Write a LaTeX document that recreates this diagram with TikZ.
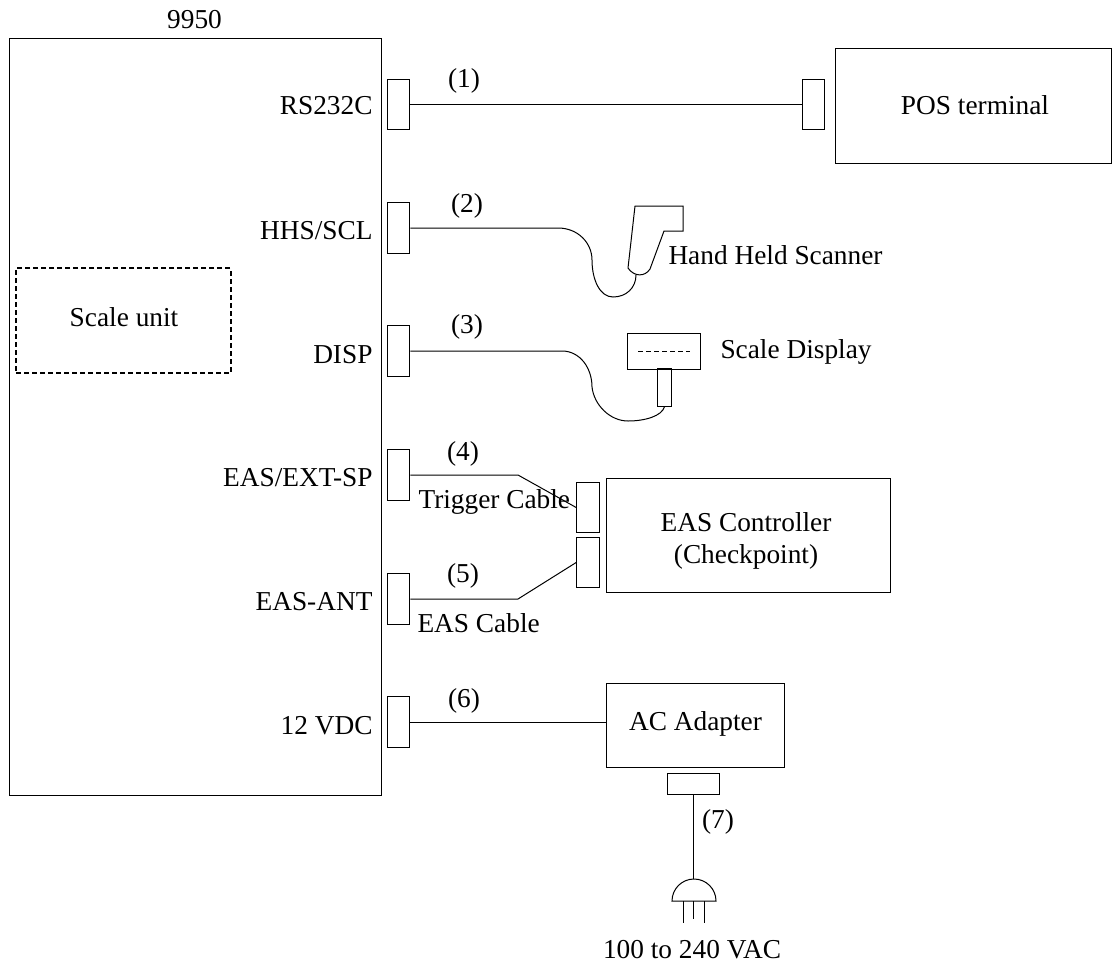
\documentclass[tikz,border=0pt]{standalone}
\usepackage{fontspec}
\setmainfont{Liberation Serif}
\usetikzlibrary{positioning,calc}

\begin{document}
\begin{tikzpicture}[x=0.75pt,y=-0.75pt,line width=0.75pt,
  every node/.style={font=\fontsize{20.5}{24}\selectfont},
  boxnode/.style={draw,rectangle,inner sep=0pt,align=center},
  portbox/.style={boxnode,minimum width=17pt,minimum height=38pt},
  lab/.style={inner sep=0pt,anchor=base},
  portlab/.style={inner sep=0pt,anchor=base east},
  sidelab/.style={inner sep=0pt,anchor=base west}]
\useasboundingbox (0,0) rectangle (1112,963);

% Main unit and scale unit
\node[boxnode,minimum width=279pt,minimum height=567pt] (unit) at (195,417) {};
\node[boxnode,line width=1.1pt,dash pattern=on 3.75pt off 2.25pt,minimum width=161pt,minimum height=78.5pt] (scale) at (123.5,320.5) {};
\node[lab] (scalelab) at (124,326) {Scale unit};
\node[lab] (title) at (194.5,29) {9950};

% Ports on the main unit
\foreach \name/\y/\base/\txt in {p1/104.5/115/RS232C, p2/228/239/HHS\slash SCL, p3/351/363/DISP, p4/475/486/EAS\slash EXT-SP, p5/599/610/EAS-ANT, p6/722/734/12 VDC} {
  \node[portbox] (\name) at (398.5,\y) {};
  \node[portlab] (\name lab) at (373,\base) {\txt};
}

% Cable numbers
\foreach \name/\x/\base/\txt in {n1/464/88/(1), n2/467/212/(2), n3/467/333/(3), n4/463/460/(4), n5/463/582/(5), n6/464/707/(6), n7/718/828/(7)} {
  \node[lab] (\name) at (\x,\base) {\txt};
}

% POS terminal
\node[portbox] (q1) at (813.5,104.5) {};
\node[boxnode,minimum width=207pt,minimum height=85.5pt] (pos) at (973,106) {};
\node[lab] (poslab) at (975,115) {POS terminal};
\draw (p1.east) -- (q1.west);

% Hand held scanner
\coordinate (scan) at (636,275);
\draw (635,206) -- (683,206) -- (683,231) -- (664,231) -- (650,269)
  .. controls (645,277) and (634,277) .. (628,268) -- cycle;
\draw (p2.east) -- (558,228) .. controls (578,228) and (592,243) .. (592,260)
  .. controls (592,280) and (600,297) .. (613,297)
  .. controls (626,297) and (636,288) .. (scan);
\node[sidelab] (scanlab) at (668,264) {Hand Held Scanner};

% Scale display
\node[boxnode,minimum width=55pt,minimum height=27pt] (disp) at (664,351) {};
\node[boxnode,minimum width=11pt,minimum height=28pt] (stem) at (664.5,387.5) {};
\draw[line width=0.5pt,dash pattern=on 4pt off 2pt] (638,351) -- (690,351);
\draw (p3.east) -- (562,351) .. controls (580,351) and (592,368) .. (592,387)
  .. controls (594,405) and (610,421) .. (628,421)
  .. controls (645,421) and (662,416) .. (stem.south);
\node[sidelab] (displab) at (720,358) {Scale Display};

% EAS controller
\node[portbox] (q4) at (588,507.5) {};
\node[portbox] (q5) at (588,562.5) {};
\node[boxnode,minimum width=213pt,minimum height=85pt] (eas) at (748,535.5) {};
\node[lab] (easlab) at (746,531) {EAS Controller};
\node[lab] (chklab) at (746,563) {(Checkpoint)};
\draw (p4.east) -- (518,475) -- (q4.west);
\draw (p5.east) -- (518,599) -- (q5.west);
\node[sidelab] (triglab) at (418,508) {Trigger Cable};
\node[sidelab] (caslab) at (417,632) {EAS Cable};

% AC adapter and plug
\node[boxnode,minimum width=134pt,minimum height=63pt] (adapter) at (695.5,725) {};
\node[lab] (adapterlab) at (695.5,730) {AC Adapter};
\node[boxnode,minimum width=39pt,minimum height=16pt] (plugbox) at (693,784) {};
\coordinate (plugtop) at (693,879);
\draw (p6.east) -- (p6.east -| adapter.west);
\draw (plugbox.south) -- (plugtop);
\draw (672,901) arc[start angle=180,end angle=360,radius=22] -- cycle;
\draw (683,901) -- (683,923);
\draw (693,901) -- (693,919);
\draw (704,901) -- (704,923);
\node[lab] (vaclab) at (692,958) {100 to 240 VAC};

\end{tikzpicture}
\end{document}
